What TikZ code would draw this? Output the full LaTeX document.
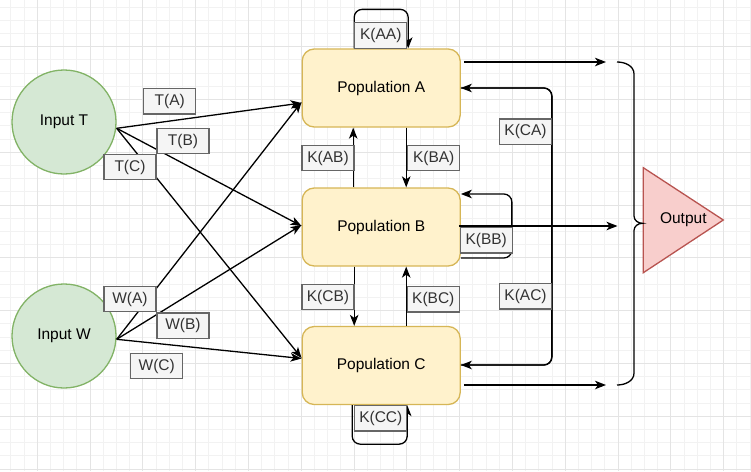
\documentclass[tikz,border=0pt]{standalone}
\usepackage{fontspec}
\setmainfont{Liberation Sans}
\usetikzlibrary{arrows.meta,calc}
\definecolor{greenfill}{HTML}{D5E8D4}
\definecolor{greenline}{HTML}{82B366}
\definecolor{yellowfill}{HTML}{FFF2CC}
\definecolor{yellowline}{HTML}{D6B656}
\definecolor{redfill}{HTML}{F8CECC}
\definecolor{redline}{HTML}{B85450}
\definecolor{lblfill}{HTML}{F5F5F5}
\definecolor{lblline}{HTML}{666666}
\definecolor{lbltext}{HTML}{333333}
\definecolor{gmin}{HTML}{F2F2F2}
\definecolor{gmaj}{HTML}{E4E4E4}
\tikzset{
  txt/.style={font=\fontsize{15.5}{18}\selectfont},
  inputnode/.style={txt, circle, draw=greenline, fill=greenfill, line width=1.3pt, minimum size=104pt, inner sep=0pt},
  popbox/.style={txt, rectangle, rounded corners=12pt, draw=yellowline, fill=yellowfill, line width=1.3pt, minimum width=158pt, minimum height=78pt, inner sep=0pt},
  lbl/.style={txt, rectangle, draw=lblline, fill=lblfill, text=lbltext, line width=1.3pt, minimum width=52pt, minimum height=25.5pt, inner sep=0pt},
  arr/.style={-{Stealth[length=11pt,width=8.5pt,inset=3pt]}, line width=1.3pt, black},
  loopedge/.style={arr, rounded corners=8pt},
  gridminor/.style={gmin, line width=1pt},
  gridmajor/.style={gmaj, line width=1.1pt},
}
\begin{document}
\begin{tikzpicture}[x=1pt,y=-1pt]
\useasboundingbox (0,0) rectangle (751,471);
\fill[white] (0,0) rectangle (751,471);
% grid
\foreach \i in {0,...,57} {\draw[gridminor] ({-2.3+13.2*\i},0) -- ({-2.3+13.2*\i},471);}
\foreach \i in {0,...,36} {\draw[gridminor] (0,{-6.1+13.2*\i}) -- (751,{-6.1+13.2*\i});}
\foreach \i in {0,...,15} {\draw[gridmajor] ({-15.5+52.8*\i},0) -- ({-15.5+52.8*\i},471);}
\foreach \i in {0,...,10} {\draw[gridmajor] (0,{-6.1+52.8*\i}) -- (751,{-6.1+52.8*\i});}

% nodes
\node[inputnode] (T) at (64,122) {Input T};
\node[inputnode] (W) at (64,336) {Input W};
\node[popbox] (A) at (381.2,88) {Population A};
\node[popbox] (B) at (381.2,227) {Population B};
\node[popbox] (C) at (381.2,365.5) {Population C};
\filldraw[draw=redline, fill=redfill, line width=1.3pt] (643.3,167.7) -- (723.3,220) -- (643.3,272.7) -- cycle;
\node[txt] (out) at (683.3,220) {Output};

% free-end coordinates
\coordinate (Ts) at (116.7,128.3);
\coordinate (Ws) at (116.7,339.3);
\coordinate (outA) at (606,62);
\coordinate (outB) at (617.5,226);
\coordinate (outC) at (606,385);

% input edges
\draw[arr] (Ts) -- ($(A.west)+(0,15)$);
\draw[arr] (Ts) -- ($(B.west)+(0,-1)$);
\draw[arr] (Ts) -- ($(C.west)+(0,-7.5)$);
\draw[arr] (Ws) -- ($(A.west)+(0,14)$);
\draw[arr] (Ws) -- ($(B.west)+(0,-2)$);
\draw[arr] (Ws) -- ($(C.west)+(0,-7)$);

% outputs
\draw[arr] ($(A.east)+(3,-26)$) -- (outA);
\draw[arr] ($(B.east)+(-2,-1)$) -- (outB);
\draw[arr] ($(C.east)+(3,19.5)$) -- (outC);

% brace
\draw[line width=1.3pt, black] (617,62) to[out=0,in=90] (634,74) -- (634,216)
  to[out=270,in=180] (642.5,223.3) to[out=180,in=90] (634,230.5) -- (634,373)
  to[out=270,in=0] (617,385);

% vertical couplings
\draw[arr] ($(B.north)+(-28,0)$) -- ($(A.south)+(-28,0)$);
\draw[arr] ($(A.south)+(25,0)$) -- ($(B.north)+(25,0)$);
\draw[arr] ($(B.south)+(-27,0)$) -- ($(C.north)+(-27,0)$);
\draw[arr] ($(C.north)+(25,0)$) -- ($(B.south)+(25,0)$);

% self loops
\draw[loopedge] ($(A.north)+(-27,0)$) -- ++(0,-39) -| ($(A.north)+(27,0)$);
\draw[loopedge] ($(C.south)+(-29,0)$) -- ++(0,39) -| ($(C.south)+(26,0)$);
\draw[loopedge] ($(B.east)+(0,31)$) -- ++(51,0) |- ($(B.east)+(0,-33)$);

% A <-> C
\draw[loopedge] ($(C.east)+(0,-0.5)$) -| ($(A.east)+(91,0)$) -- (A.east);
\draw[loopedge] (A.east) -| ($(C.east)+(91,-0.5)$) -- ($(C.east)+(0,-0.5)$);

% labels
\node[lbl] (lTA) at (169.7,101.3) {T(A)};
\node[lbl] (lTB) at (183,141) {T(B)};
\node[lbl] (lTC) at (130,167) {T(C)};
\node[lbl] (lWA) at (130,299) {W(A)};
\node[lbl] (lWB) at (183,325.7) {W(B)};
\node[lbl] (lWC) at (156.7,366) {W(C)};
\node[lbl] (lAA) at (380.8,35.5) {K(AA)};
\node[lbl] (lCC) at (380.8,418.3) {K(CC)};
\node[lbl] (lAB) at (328,158) {K(AB)};
\node[lbl] (lBA) at (433.7,158) {K(BA)};
\node[lbl] (lCB) at (328,297) {K(CB)};
\node[lbl] (lBC) at (433.3,299.3) {K(BC)};
\node[lbl] (lBB) at (486.2,240.3) {K(BB)};
\node[lbl] (lCA) at (525.5,131.7) {K(CA)};
\node[lbl] (lAC) at (525.5,296.3) {K(AC)};
\end{tikzpicture}
\end{document}
